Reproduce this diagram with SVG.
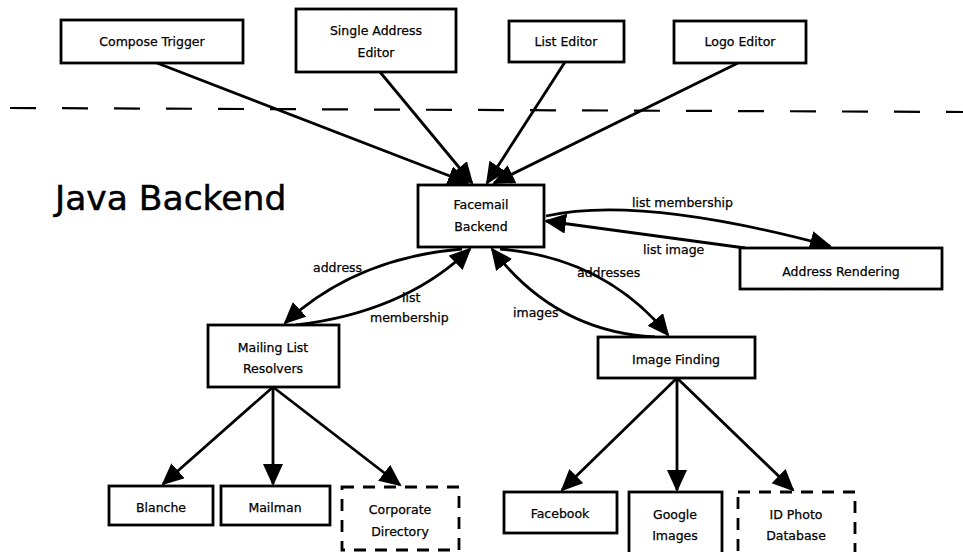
<svg xmlns="http://www.w3.org/2000/svg" width="963" height="552" viewBox="0 0 963 552">
<style>
.box{fill:#fff;stroke:#000;stroke-width:2.8}
.dbox{fill:#fff;stroke:#000;stroke-width:2.8;stroke-dasharray:12 9}
.t{font-family:"DejaVu Sans",sans-serif;font-size:12.5px;fill:#000;text-anchor:middle;stroke:#000;stroke-width:0.25}
.lbl{font-family:"DejaVu Sans",sans-serif;font-size:12.5px;fill:#000;stroke:#000;stroke-width:0.25}
.ea{fill:none;stroke:#000;stroke-width:2.8;marker-end:url(#ah)}
</style>
<defs>
<marker id="ah" markerUnits="userSpaceOnUse" markerWidth="24" markerHeight="22" refX="20" refY="10" orient="auto">
<path d="M0,0 L22,10 L0,20 z" fill="#000"/>
</marker>
</defs>
<rect width="963" height="552" fill="#fff"/>
<path d="M10,108 L963,112" fill="none" stroke="#000" stroke-width="2.2" stroke-dasharray="26 26"/>
<text x="55" y="210" font-family="DejaVu Sans, sans-serif" font-size="34.5" fill="#000" stroke="#000" stroke-width="0.5">Java Backend</text>

<g id="connectors">
<path class="ea" d="M157,63 L468,183"/>
<path class="ea" d="M380,72 L472,183"/>
<path class="ea" d="M565,62 L487,183"/>
<path class="ea" d="M738,63 L494,183"/>
<path class="ea" d="M462,249 Q355,258 285,323"/>
<path class="ea" d="M296,325 Q405,312 470,249"/>
<path class="ea" d="M500,249 Q605,258 668,335"/>
<path class="ea" d="M655,337 Q555,332 492,249"/>
<path class="ea" d="M546,216 Q640,195 830,246"/>
<path class="ea" d="M745,248 L546,221"/>
<path class="ea" d="M273,387 L163,484"/>
<path class="ea" d="M273,387 L273,484"/>
<path class="ea" d="M273,387 L400,485"/>
<path class="ea" d="M677,378 L562,490"/>
<path class="ea" d="M677,378 L677,490"/>
<path class="ea" d="M677,378 L793,490"/>
<text class="lbl" x="313" y="272">address</text>
<text class="lbl" x="402" y="302">list</text>
<text class="lbl" x="370" y="322">membership</text>
<text class="lbl" x="513" y="317">images</text>
<text class="lbl" x="577" y="277">addresses</text>
<text class="lbl" x="632" y="207">list membership</text>
<text class="lbl" x="643" y="254">list image</text>
</g>

<g id="compose-trigger"><rect class="box" x="61" y="20" width="182" height="43"/><text class="t" x="152" y="46">Compose Trigger</text></g>
<g id="single-address-editor"><rect class="box" x="296" y="9" width="160" height="63"/><text class="t" x="376" y="35">Single Address</text><text class="t" x="376" y="57">Editor</text></g>
<g id="list-editor"><rect class="box" x="509" y="21" width="115" height="41"/><text class="t" x="566" y="46">List Editor</text></g>
<g id="logo-editor"><rect class="box" x="674" y="21" width="132" height="42"/><text class="t" x="740" y="46">Logo Editor</text></g>
<g id="facemail-backend"><rect class="box" x="418" y="185" width="126" height="62"/><text class="t" x="481" y="209">Facemail</text><text class="t" x="481" y="231">Backend</text></g>
<g id="address-rendering"><rect class="box" x="740" y="248" width="202" height="41"/><text class="t" x="841" y="276">Address Rendering</text></g>
<g id="mailing-list-resolvers"><rect class="box" x="208" y="325" width="131" height="62"/><text class="t" x="273" y="352">Mailing List</text><text class="t" x="273" y="373">Resolvers</text></g>
<g id="image-finding"><rect class="box" x="598" y="337" width="157" height="41"/><text class="t" x="676" y="364">Image Finding</text></g>
<g id="blanche"><rect class="box" x="109" y="486" width="104" height="39"/><text class="t" x="161" y="512">Blanche</text></g>
<g id="mailman"><rect class="box" x="221" y="486" width="109" height="39"/><text class="t" x="275" y="512">Mailman</text></g>
<g id="corporate-directory"><rect class="dbox" x="342" y="487" width="117" height="63"/><text class="t" x="400" y="514">Corporate</text><text class="t" x="400" y="536">Directory</text></g>
<g id="facebook"><rect class="box" x="504" y="492" width="113" height="41"/><text class="t" x="560" y="518">Facebook</text></g>
<g id="google-images"><rect class="box" x="629" y="492" width="93" height="70"/><text class="t" x="675" y="519">Google</text><text class="t" x="675" y="540">Images</text></g>
<g id="id-photo-database"><rect class="dbox" x="738" y="492" width="117" height="70"/><text class="t" x="796" y="519">ID Photo</text><text class="t" x="796" y="540">Database</text></g>
</svg>
